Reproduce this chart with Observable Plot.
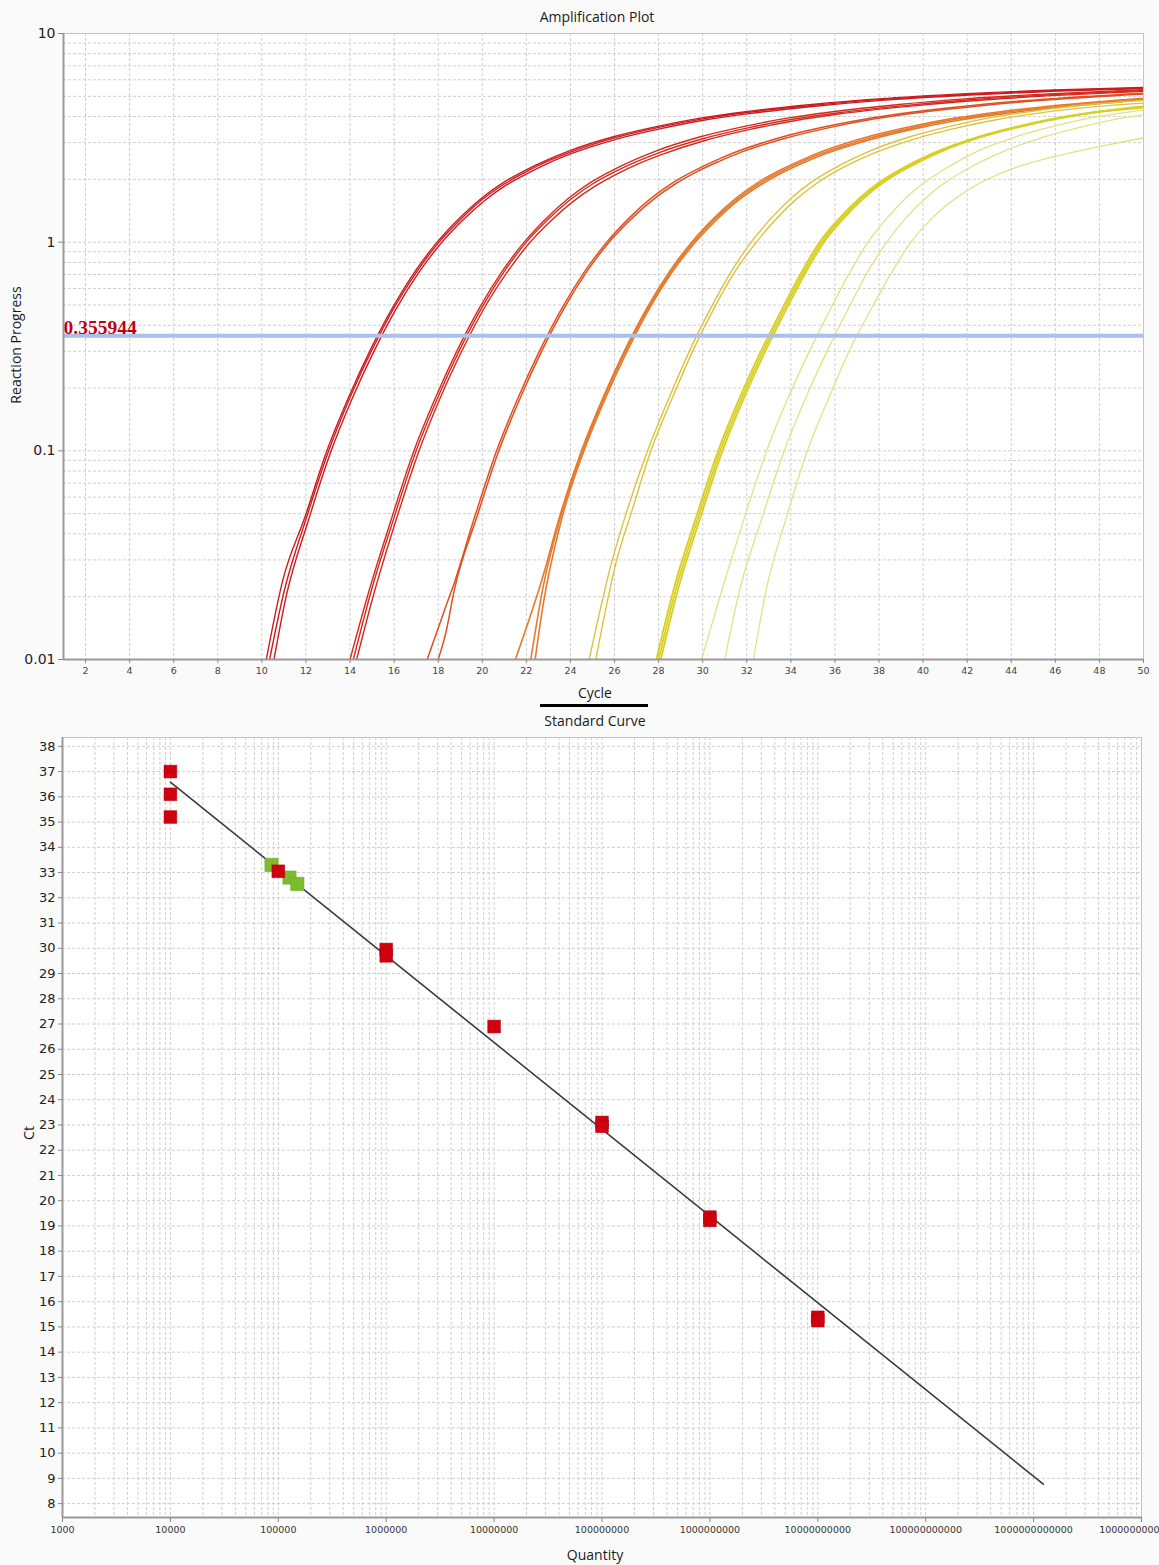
<!DOCTYPE html>
<html><head><meta charset="utf-8">
<script src="https://cdn.jsdelivr.net/npm/d3@7"></script>
<script src="https://cdn.jsdelivr.net/npm/@observablehq/plot@0.6"></script>
<style>
html,body{margin:0;padding:0;}
body{background:#fafafa;width:1159px;height:1565px;position:relative;overflow:hidden;font-family:"Open Sans",sans-serif;color:#1a1a1a;}
.t{position:absolute;font-size:14px;white-space:nowrap;transform:translate(-50%,-50%);line-height:1;}
.r{transform:translate(-50%,-50%) rotate(-90deg);}
#amp,#std{position:absolute;left:0;}
#amp{top:0;} #std{top:730px;}
</style></head><body>
<div id="amp"></div>
<div id="std"></div>
<div class="t" style="left:597px;top:17px">Amplification Plot</div>
<div class="t r" style="left:16px;top:345px">Reaction Progress</div>
<div class="t" style="left:595px;top:693px">Cycle</div>
<div style="position:absolute;left:540px;top:704px;width:108px;height:3px;background:#000"></div>
<div class="t" style="left:595px;top:721px">Standard Curve</div>
<div class="t r" style="left:29px;top:1133px">Ct</div>
<div class="t" style="left:595px;top:1555px">Quantity</div>
<script>
// ---------- Amplification plot data ----------
const cycleTicks = d3.range(2, 51, 2);
const progressTicks = [0.01, 0.1, 1, 10];
const thresholdValue = 0.355944;

// each curve: [cycle, reaction progress] pairs
const groupA = [ // 1e10 standards (Ct ~15.3)
  [[10.2,0.01],[10.95,0.024],[11.95,0.048],[12.95,0.1],[13.95,0.182],[14.95,0.309],[15.95,0.49],[16.95,0.724],[17.95,1.0],[18.95,1.3],[19.95,1.62],[20.95,1.93],[21.95,2.21],[22.95,2.48],[23.95,2.74],[25.95,3.2],[27.95,3.59],[29.95,3.94],[31.95,4.22],[34.95,4.57],[37.95,4.86],[41.95,5.15],[45.95,5.37],[50,5.52]],
  [[10.35,0.01],[11,0.021],[12,0.047],[13,0.098],[14,0.18],[15,0.305],[16,0.485],[17,0.715],[18,0.99],[19,1.28],[20,1.6],[21,1.9],[22,2.18],[23,2.45],[24,2.7],[26,3.16],[28,3.55],[30,3.9],[32,4.18],[35,4.53],[38,4.82],[42,5.11],[46,5.33],[50,5.48]],
  [[10.55,0.01],[11.1,0.02],[12.1,0.046],[13.1,0.097],[14.1,0.178],[15.1,0.302],[16.1,0.48],[17.1,0.71],[18.1,0.98],[19.1,1.27],[20.1,1.58],[21.1,1.88],[22.1,2.15],[23.1,2.42],[24.1,2.67],[26.1,3.12],[28.1,3.5],[30.1,3.85],[32.1,4.13],[35.1,4.48],[38.1,4.78],[42.1,5.07],[46.1,5.3],[50,5.45]]
];
const groupB = [ // 1e9 (Ct ~19.3)
  [[14.0,0.01],[14.9,0.022],[15.9,0.048],[16.9,0.1],[17.9,0.182],[18.9,0.309],[19.9,0.49],[20.9,0.724],[21.9,1.0],[22.9,1.3],[23.9,1.62],[24.9,1.93],[25.9,2.21],[26.9,2.48],[27.9,2.74],[29.9,3.2],[31.9,3.59],[33.9,3.94],[35.9,4.22],[38.9,4.57],[41.9,4.86],[45.9,5.15],[50,5.38]],
  [[14.15,0.01],[15,0.022],[16,0.048],[17,0.1],[18,0.182],[19,0.309],[20,0.49],[21,0.724],[22,1.0],[23,1.29],[24,1.6],[25,1.9],[26,2.17],[27,2.43],[28,2.68],[30,3.13],[32,3.52],[34,3.87],[36,4.15],[39,4.5],[42,4.8],[46,5.1],[50,5.33]],
  [[14.3,0.01],[15.1,0.021],[16.1,0.047],[17.1,0.098],[18.1,0.18],[19.1,0.305],[20.1,0.485],[21.1,0.71],[22.1,0.98],[23.1,1.26],[24.1,1.56],[25.1,1.85],[26.1,2.12],[27.1,2.38],[28.1,2.62],[30.1,3.07],[32.1,3.46],[34.1,3.81],[36.1,4.1],[39.1,4.45],[42.1,4.75],[46.1,5.05],[50,5.28]]
];
const groupC = [ // 1e8 (Ct ~23.0)
  [[17.5,0.01],[18.35,0.018],[18.65,0.022],[19.65,0.048],[20.65,0.1],[21.65,0.182],[22.65,0.309],[23.65,0.49],[24.65,0.724],[25.65,1.0],[26.65,1.3],[27.65,1.62],[28.65,1.93],[29.65,2.21],[30.65,2.48],[31.65,2.74],[33.65,3.2],[35.65,3.59],[37.65,3.94],[39.65,4.22],[42.65,4.57],[45.65,4.86],[50,5.18]],
  [[18.0,0.01],[18.35,0.0135],[18.75,0.022],[19.75,0.048],[20.75,0.1],[21.75,0.182],[22.75,0.309],[23.75,0.49],[24.75,0.724],[25.75,1.0],[26.75,1.29],[27.75,1.6],[28.75,1.9],[29.75,2.18],[30.75,2.44],[31.75,2.7],[33.75,3.15],[35.75,3.54],[37.75,3.89],[39.75,4.17],[42.75,4.52],[45.75,4.81],[50,5.13]]
];
const groupD = [ // 1e7 (Ct ~26.9)
  [[21.5,0.01],[22.75,0.025],[23.5,0.048],[24.5,0.1],[25.5,0.182],[26.5,0.309],[27.5,0.49],[28.5,0.724],[29.5,1.0],[30.5,1.3],[31.5,1.62],[32.5,1.93],[33.5,2.21],[34.5,2.48],[35.5,2.74],[37.5,3.2],[39.5,3.59],[41.5,3.94],[43.5,4.22],[46.5,4.57],[50,4.9]],
  [[22.2,0.01],[22.75,0.022],[23.55,0.048],[24.55,0.1],[25.55,0.182],[26.55,0.309],[27.55,0.49],[28.55,0.72],[29.55,0.99],[30.55,1.29],[31.55,1.6],[32.55,1.9],[33.55,2.18],[34.55,2.45],[35.55,2.7],[37.55,3.15],[39.55,3.54],[41.55,3.89],[43.55,4.17],[46.55,4.52],[50,4.86]],
  [[22.4,0.01],[22.75,0.018],[23.6,0.047],[24.6,0.099],[25.6,0.18],[26.6,0.305],[27.6,0.485],[28.6,0.715],[29.6,0.98],[30.6,1.27],[31.6,1.58],[32.6,1.87],[33.6,2.15],[34.6,2.41],[35.6,2.66],[37.6,3.1],[39.6,3.49],[41.6,3.84],[43.6,4.12],[46.6,4.47],[50,4.82]]
];
const groupE = [ // 1e6 (Ct ~29.8)
  [[24.85,0.01],[25.9,0.03],[26.6,0.053],[27.5,0.1],[28.5,0.182],[29.45,0.309],[30.4,0.49],[31.3,0.724],[32.2,1.0],[33.1,1.3],[34,1.62],[34.9,1.93],[35.8,2.21],[36.7,2.48],[37.6,2.74],[39.4,3.2],[41.2,3.59],[43,3.94],[44.8,4.22],[47.5,4.57],[50,4.78]],
  [[25.15,0.01],[26.1,0.03],[26.8,0.052],[27.65,0.1],[28.65,0.182],[29.6,0.309],[30.55,0.49],[31.45,0.72],[32.4,0.99],[33.3,1.28],[34.2,1.59],[35.1,1.89],[36,2.17],[36.9,2.43],[37.8,2.68],[39.6,3.12],[41.4,3.5],[43.2,3.84],[45,4.12],[47.7,4.45],[50,4.64]]
];
const groupF = [ // 1e5 (Ct ~33.1)
  [[27.9,0.01],[28.7,0.022],[29.7,0.048],[30.7,0.1],[31.7,0.182],[32.7,0.309],[33.65,0.49],[34.5,0.724],[35.3,1.0],[36.2,1.3],[37.1,1.62],[38,1.93],[38.9,2.21],[39.8,2.48],[40.7,2.74],[42.5,3.2],[44.3,3.59],[46.1,3.94],[47.9,4.22],[50,4.48]],
  [[28.0,0.01],[28.8,0.022],[29.8,0.048],[30.8,0.1],[31.8,0.182],[32.8,0.309],[33.75,0.49],[34.6,0.724],[35.4,1.0],[36.3,1.3],[37.2,1.62],[38.1,1.93],[39,2.21],[39.9,2.48],[40.8,2.74],[42.6,3.2],[44.4,3.59],[46.2,3.94],[48,4.22],[50,4.45]],
  [[28.1,0.01],[28.9,0.022],[29.9,0.048],[30.9,0.1],[31.9,0.182],[32.9,0.309],[33.85,0.49],[34.7,0.724],[35.5,1.0],[36.4,1.3],[37.3,1.62],[38.2,1.93],[39.1,2.21],[40,2.48],[40.9,2.74],[42.7,3.2],[44.5,3.59],[46.3,3.94],[48.1,4.22],[50,4.42]]
];
const groupG = [ // 1e4 (Ct ~35.2 / 36.0 / 37.0)
  [[29.95,0.01],[30.9,0.022],[31.9,0.048],[32.9,0.1],[33.9,0.182],[34.9,0.309],[35.85,0.49],[36.7,0.724],[37.5,1.0],[38.35,1.3],[39.2,1.62],[40.05,1.93],[40.9,2.21],[41.7,2.48],[42.5,2.74],[44.2,3.2],[45.9,3.59],[47.6,3.94],[50,4.3]],
  [[31.0,0.01],[31.7,0.022],[32.7,0.048],[33.7,0.1],[34.7,0.182],[35.7,0.309],[36.65,0.49],[37.5,0.724],[38.35,1.0],[39.2,1.3],[40.1,1.62],[41,1.93],[41.9,2.21],[42.8,2.48],[43.7,2.74],[45.5,3.2],[47.3,3.59],[49.1,3.94],[50,4.08]],
  [[32.3,0.01],[32.9,0.022],[33.8,0.048],[34.75,0.1],[35.75,0.182],[36.7,0.309],[37.7,0.49],[38.6,0.724],[39.45,1.0],[40.4,1.3],[41.4,1.6],[42.5,1.9],[43.7,2.18],[45,2.42],[46.5,2.65],[48.2,2.9],[50,3.16]]
];
const groupColors = ["#cd1b1f","#d42a1e","#de4f22","#e57a2e","#dcc23c","#d8cf24","#dfe384"];
const groupWidths = [1.4,1.4,1.5,1.6,1.4,1.8,1.3];

// ---------- Standard curve data ----------
const quantityTicks = d3.range(3, 14).map(e => Math.pow(10, e));
const ctTicks = d3.range(8, 39);
const stdQuantity = [1e4,1e4,1e4,1e5,1e6,1e6,1e7,1e8,1e8,1e9,1e9,1e10,1e10];
const stdCt =       [37.0,36.1,35.2,33.05,29.95,29.7,26.9,23.1,22.95,19.35,19.22,15.38,15.25];
const unkQuantity = [86500,127000,150000];
const unkCt =       [33.3,32.8,32.55];
const fitQuantity = [1e4, 1.23e12];
const fitCt =       [36.58, 8.77];

// ---------- Amplification plot ----------
const groups = [groupA,groupB,groupC,groupD,groupE,groupF,groupG];
const curveMarks = [];
groups.forEach((g, gi) => g.forEach(pts => {
  curveMarks.push(Plot.line(pts, {x: d => d[0], y: d => d[1], stroke: groupColors[gi],
    strokeWidth: groupWidths[gi], curve: "monotone-x", clip: true}));
}));
const ampMinor = [];
[0.01, 0.1, 1].forEach(dec => d3.range(1, 10).forEach(m => ampMinor.push(m * dec)));

const grid = {stroke: "#cfcfcf", strokeDasharray: "3,2", strokeWidth: 1};

const amp = Plot.plot({
  width: 1159, height: 690,
  marginLeft: 63, marginRight: 16, marginTop: 33, marginBottom: 31,
  style: {fontFamily: "DejaVu Sans, sans-serif", color: "#333", background: "transparent", overflow: "visible"},
  x: {domain: [1, 50]},
  y: {type: "log", domain: [0.01, 10]},
  marks: [
    Plot.frame({fill: "white", stroke: "#c4c4c4"}),
    Plot.ruleY(ampMinor.filter(v => v > 0.01), grid),
    Plot.ruleX(cycleTicks.filter(v => v < 50), grid),
    ...curveMarks,
    Plot.ruleY([thresholdValue], {stroke: "#a8c0ea", strokeWidth: 4}),
    Plot.text([thresholdValue], {x: () => 1, y: d => d, text: d => String(d), textAnchor: "start",
      dy: -8, fill: "#c00010", fontWeight: "bold", fontFamily: "Liberation Serif, serif", fontSize: 19.5}),
    Plot.ruleX([1], {stroke: "#9a9a9a", strokeWidth: 2}),
    Plot.ruleY([0.01], {stroke: "#9a9a9a", strokeWidth: 2}),
    Plot.axisX({ticks: cycleTicks, tickFormat: d => String(d), tickSize: 4, tickPadding: 4, fontSize: 9.5,
      stroke: "#888", fill: "#444", label: null}),
    Plot.axisY({ticks: progressTicks, tickFormat: d => String(d), tickSize: 5, tickPadding: 3, fontSize: 14,
      stroke: "#888", fill: "#222", label: null})
  ]
});
document.getElementById("amp").appendChild(amp);

// ---------- Standard curve ----------
const stdMinor = [];
d3.range(3, 13).forEach(e => d3.range(1, 10).forEach(m => stdMinor.push(m * Math.pow(10, e))));
const stdPts = stdQuantity.map((q, i) => ({q, ct: stdCt[i]}));
const unkPts = unkQuantity.map((q, i) => ({q, ct: unkCt[i]}));
const fitPts = fitQuantity.map((q, i) => ({q, ct: fitCt[i]}));

const std = Plot.plot({
  width: 1159, height: 812,
  marginLeft: 62, marginRight: 18, marginTop: 7, marginBottom: 25,
  style: {fontFamily: "DejaVu Sans, sans-serif", color: "#333", background: "transparent", overflow: "visible"},
  x: {type: "log", domain: [1e3, 1e13]},
  y: {domain: [7.45, 38.35]},
  marks: [
    Plot.frame({fill: "white", stroke: "#c4c4c4"}),
    Plot.ruleY(ctTicks, grid),
    Plot.ruleX(stdMinor.filter(v => v > 1e3), grid),
    Plot.line(fitPts, {x: "q", y: "ct", stroke: "#3a3a3a", strokeWidth: 1.6}),
    Plot.dot(unkPts, {x: "q", y: "ct", symbol: "square", r: 7.5, fill: "#7cbb2c", stroke: "#6aa822", strokeWidth: 0.5}),
    Plot.dot(stdPts, {x: "q", y: "ct", symbol: "square", r: 7.2, fill: "#d0000f", stroke: "#a8000a", strokeWidth: 0.5}),
    Plot.ruleX([1e3], {stroke: "#9a9a9a", strokeWidth: 2}),
    Plot.ruleY([7.45], {stroke: "#9a9a9a", strokeWidth: 2}),
    Plot.axisX({ticks: quantityTicks, tickFormat: d => d.toFixed(0), tickSize: 5, tickPadding: 4, fontSize: 9.5,
      stroke: "#888", fill: "#333", label: null}),
    Plot.axisY({ticks: ctTicks, tickFormat: d => String(d), tickSize: 4, tickPadding: 3, fontSize: 13,
      stroke: "#888", fill: "#222", label: null})
  ]
});
document.getElementById("std").appendChild(std);
</script>
</body></html>
